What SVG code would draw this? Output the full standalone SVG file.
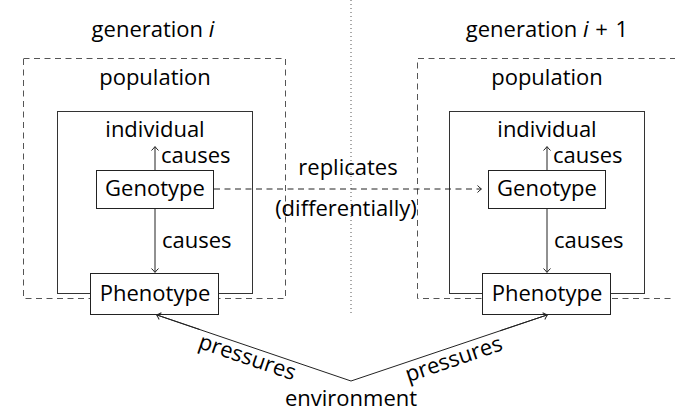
<svg xmlns="http://www.w3.org/2000/svg" width="675" height="412" viewBox="0 0 675 412">
  <style>
    text { font-family: "Open Sans", "Noto Sans", "DejaVu Sans", sans-serif; font-size: 22px; fill: #000; }
    .mid { text-anchor: middle; }
    .box { fill: #fff; stroke: #222; stroke-width: 1; }
    .frame { fill: none; stroke: #333; stroke-width: 1; }
    .dash { fill: none; stroke: #555; stroke-width: 1; stroke-dasharray: 6 4.5; }
    .edge { fill: none; stroke: #222; stroke-width: 1; }
  </style>
  <defs>
    <marker id="tip" viewBox="-5 -5 7 10" markerWidth="7" markerHeight="10" refX="0" refY="0" orient="auto" markerUnits="userSpaceOnUse">
      <path d="M-3.5,-3.5 Q-0.6,-0.6 0.5,0 Q-0.6,0.6 -3.5,3.5" fill="none" stroke="#222" stroke-width="1"/>
    </marker>
  </defs>

  <!-- separator between generations -->
  <line x1="351" y1="0" x2="351" y2="316" stroke="#555" stroke-width="1" stroke-dasharray="1 3"/>

  <!-- generation i -->
  <g id="generation-i">
    <text class="mid" x="153" y="37">generation <tspan font-style="italic">i</tspan></text>
    <rect class="dash" x="23.5" y="58.5" width="262" height="240"/>
    <text class="mid" x="155" y="85">population</text>
    <rect class="frame" x="57.5" y="111.5" width="195" height="182"/>
    <text class="mid" x="155" y="137">individual</text>
  </g>
  <g id="genotype-i">
    <rect class="box" x="96.5" y="170.5" width="117" height="38"/>
    <text class="mid" x="155" y="196">Genotype</text>
  </g>
  <g id="phenotype-i">
    <rect class="box" x="90.5" y="273.5" width="128" height="41"/>
    <text class="mid" x="155" y="301">Phenotype</text>
  </g>

  <!-- generation i + 1 -->
  <g id="generation-i1">
    <text class="mid" x="547" y="37">generation <tspan font-style="italic">i</tspan><tspan dx="1"> + </tspan><tspan dx="2">1</tspan></text>
    <path class="dash" d="M676,58.5 H417.5 V298.5 H676"/>
    <text class="mid" x="547" y="85">population</text>
    <rect class="frame" x="449.5" y="111.5" width="195" height="182"/>
    <text class="mid" x="547" y="137">individual</text>
  </g>
  <g id="genotype-i1">
    <rect class="box" x="488.5" y="170.5" width="117" height="38"/>
    <text class="mid" x="547" y="196">Genotype</text>
  </g>
  <g id="phenotype-i1">
    <rect class="box" x="482.5" y="273.5" width="128" height="41"/>
    <text class="mid" x="547" y="301">Phenotype</text>
  </g>

  <g id="environment">
    <text class="mid" x="351" y="406">environment</text>
  </g>

  <g id="connectors">
    <!-- genotype causes individual -->
    <line class="edge" x1="155" y1="170" x2="155" y2="147" marker-end="url(#tip)"/>
    <text x="161" y="163">causes</text>
    <line class="edge" x1="547" y1="170" x2="547" y2="147" marker-end="url(#tip)"/>
    <text x="553" y="163">causes</text>
    <!-- genotype causes phenotype -->
    <line class="edge" x1="155" y1="209" x2="155" y2="272" marker-end="url(#tip)"/>
    <text x="162" y="248">causes</text>
    <line class="edge" x1="547" y1="209" x2="547" y2="272" marker-end="url(#tip)"/>
    <text x="554" y="248">causes</text>
    <!-- replication -->
    <line class="edge" x1="214" y1="189" x2="481" y2="189" stroke-dasharray="6 4.5" marker-end="url(#tip)"/>
    <text class="mid" x="348" y="175">replicates</text>
    <text class="mid" x="346" y="216">(differentially)</text>
    <!-- environmental pressures -->
    <polyline class="edge" points="157,315 351,381 547,315"/>
    <line class="edge" x1="200" y1="329.6" x2="157" y2="315" marker-end="url(#tip)"/>
    <line class="edge" x1="500" y1="330.8" x2="547" y2="315" marker-end="url(#tip)"/>
    <text class="mid" transform="translate(245,364) rotate(18.8)">pressures</text>
    <text class="mid" transform="translate(456,366) rotate(-18.8)">pressures</text>
  </g>
</svg>
